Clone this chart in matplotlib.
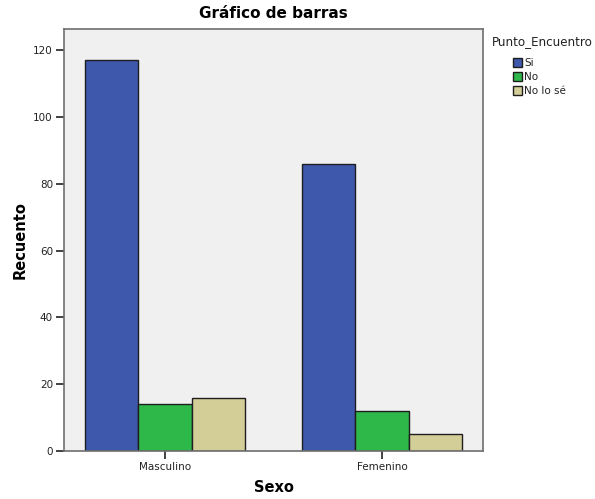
import numpy as np
import matplotlib.pyplot as plt
from matplotlib.patches import Patch

# Data
categories = ['Masculino', 'Femenino']
series = ['Si', 'No', 'No lo sé']
si_vals = [117, 86]
no_vals = [14, 12]
nose_vals = [16, 5]
colors = ['#3e58ac', '#2eb84a', '#d3ce97']

fig = plt.figure(figsize=(5.95, 4.99), dpi=100)
ax = fig.add_axes([64/595, 1 - 451/499, (483 - 64)/595, (451 - 29)/499])
ax.set_facecolor('#f0f0f0')

x = np.arange(len(categories))
w = 0.2465
for i, (vals, c) in enumerate(zip([si_vals, no_vals, nose_vals], colors)):
    ax.bar(x + (i - 1) * w, vals, width=w, color=c, edgecolor='#1e1e1e', linewidth=1.0)

ax.set_xlim(-0.465, 1.465)
ax.set_ylim(0, 126.3)
ax.set_yticks([0, 20, 40, 60, 80, 100, 120])
ax.set_xticks(x)
ax.set_xticklabels(categories)
ax.tick_params(axis='both', labelsize=7.5, colors='#222222', length=6, width=1.2,
               direction='out', pad=2)
for s in ax.spines.values():
    s.set_color('#6e6e6e')
    s.set_linewidth(1.2)

ax.set_title('Gráfico de barras', fontsize=11, fontweight='bold', pad=8)
ax.set_ylabel('Recuento', fontsize=10.5, fontweight='bold', labelpad=4)
ax.set_xlabel('Sexo', fontsize=10.5, fontweight='bold', labelpad=6)

# legend: title at left, entries indented
fig.text(492/595, 1 - 42/499, 'Punto_Encuentro', fontsize=8.6, color='#222222',
         va='center', ha='left')
handles = [Patch(facecolor=c, edgecolor='#1e1e1e', label=s) for s, c in zip(series, colors)]
leg = fig.legend(handles=handles, loc='upper left',
                 bbox_to_anchor=(513/595, 1 - 58/499), frameon=False,
                 fontsize=7.5, handlelength=0.9, handleheight=0.9,
                 handletextpad=0.2, labelspacing=0.4, borderpad=0.0,
                 borderaxespad=0.0)
for t in leg.get_texts():
    t.set_color('#222222')

fig.savefig('out.png', dpi=100)
